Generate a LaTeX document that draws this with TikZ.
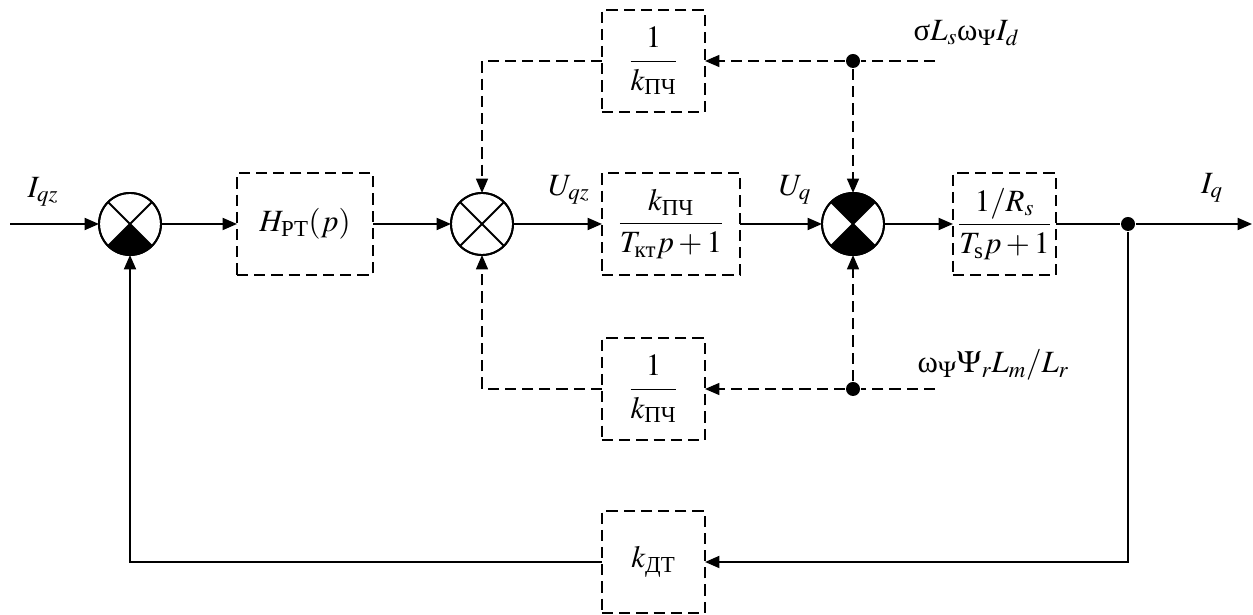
\documentclass[tikz,border=0pt]{standalone}
\usepackage{amsmath}
\usepackage{mathptmx}
\usepackage{fontspec}
\setmainfont{Liberation Serif}
\usepackage{tikz}
\usetikzlibrary{arrows.meta, positioning}

\begin{document}
\begin{tikzpicture}[x=0.025cm, y=0.025cm, >={Triangle[length=3.6mm, width=3mm]},
    line width=1.35pt, font=\fontsize{22}{26}\selectfont,
    blk/.style={draw, dash pattern=on 2.8mm off 1.5mm, line width=1.1pt,
        minimum height=25.5mm, inner sep=0pt, outer sep=0pt},
    sum/.style={draw, circle, minimum size=15.5mm, inner sep=0pt, outer sep=0pt},
    junc/.style={circle, fill, minimum size=3.5mm, inner sep=0pt},
    sig/.style={dash pattern=on 2.8mm off 1.5mm, line width=1.1pt}]
    \useasboundingbox (0,0) rectangle (1253,615);

    % main chain
    \coordinate (in) at (10,391);
    \node[sum] (s1) at (130,391) {};
    \node[blk, minimum width=34mm] (hrt) at (305,391) {$H_{\text{РТ}}(p)$};
    \node[sum] (s2) at (482,391) {};
    \node[blk, minimum width=34.5mm] (pch) at (671,391) {$\dfrac{k_{\text{ПЧ}}}{T_{\text{кт}}p+1}$};
    \node[sum] (s3) at (853,391) {};
    \node[blk, minimum width=25.75mm] (plant) at (1004.5,391) {$\dfrac{1/R_s}{T_{\text{s}}p+1}$};
    \node[junc] (dout) at (1128,391) {};
    \coordinate (out) at (1252,391);

    % compensation blocks
    \node[blk, minimum width=25.75mm] (ctop) at (653.5,554) {$\dfrac{1}{k_{\text{ПЧ}}}$};
    \node[junc] (dtop) at (853,554) {};
    \coordinate (etop) at (935,554);
    \node[blk, minimum width=25.75mm] (cbot) at (653.5,226) {$\dfrac{1}{k_{\text{ПЧ}}}$};
    \node[junc] (dbot) at (853,226) {};
    \coordinate (ebot) at (935,226);
    \node[blk, minimum width=25.75mm] (kdt) at (653.5,53) {$k_{\text{ДТ}}$};

    % sectors of the summing points
    \fill (s1.center) -- (s1.-45) arc[start angle=-45, end angle=-135, radius=7.75mm] -- cycle;
    \fill (s3.center) -- (s3.-45) arc[start angle=-45, end angle=-135, radius=7.75mm] -- cycle;
    \fill (s3.center) -- (s3.45) arc[start angle=45, end angle=135, radius=7.75mm] -- cycle;
    \foreach \s in {s1,s2,s3} {
        \draw (\s.45) -- (\s.-135) (\s.135) -- (\s.-45);
        \draw (\s) circle[radius=7.75mm];
    }

    % signals
    \draw[->] (in) -- (s1);
    \draw[->] (s1) -- (hrt);
    \draw[->] (hrt) -- (s2);
    \draw[->] (s2) -- (pch);
    \draw[->] (pch) -- (s3);
    \draw[->] (s3) -- (plant);
    \draw (plant) -- (dout);
    \draw[->] (dout) -- (out);
    \draw[->] (dout) |- (kdt);
    \draw[->] (kdt) -| (s1);

    \draw[sig] (etop) -- (dtop);
    \draw[sig, ->] (dtop) -- (ctop);
    \draw[sig, ->] (ctop) -| (s2);
    \draw[sig, ->] (dtop) -- (s3);
    \draw[sig] (ebot) -- (dbot);
    \draw[sig, ->] (dbot) -- (cbot);
    \draw[sig, ->] (cbot) -| (s2);
    \draw[sig, ->] (dbot) -- (s3);

    % labels
    \node (liqz) at (43,423) {$I_{qz}$};
    \node (luqz) at (569,425) {$U_{qz}$};
    \node (luq) at (795,425) {$U_q$};
    \node (liq) at (1212,427) {$I_q$};
    \node[anchor=west] (lfd) at (908,582) {$\text{σ}L_s\text{ω}_{\Psi}I_d$};
    \node[anchor=west] (lfq) at (912,250) {$\text{ω}_{\Psi}\Psi_rL_m/L_r$};
\end{tikzpicture}
\end{document}
